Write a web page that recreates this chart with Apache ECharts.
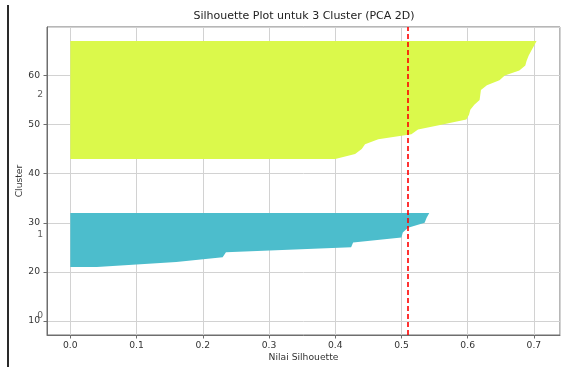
<!DOCTYPE html>
<html>
<head>
<meta charset="utf-8">
<script src="https://cdn.jsdelivr.net/npm/echarts@6/dist/echarts.min.js"></script>
<style>
  html, body { margin: 0; padding: 0; background: #fff; }
  #chart { width: 561px; height: 367px; }
</style>
</head>
<body>
<div id="chart"></div>
<script>
// ---- data ----
const chartTitle = 'Silhouette Plot untuk 3 Cluster (PCA 2D)';
const xAxisTitle = 'Nilai Silhouette';
const yAxisTitle = 'Cluster';
const clusterNames = ['0', '1', '2'];
// sorted silhouette values per cluster (one value per sample)
const cluster0Values = [0.0];
const cluster1Values = [0.04, 0.16, 0.23, 0.235, 0.424, 0.427, 0.50, 0.502, 0.51, 0.535, 0.538, 0.542];
const cluster2Values = [0.40, 0.43, 0.44, 0.445, 0.465, 0.515, 0.525, 0.562, 0.598, 0.602, 0.604, 0.61, 0.618,
                        0.619, 0.62, 0.629, 0.648, 0.656, 0.678, 0.687, 0.689, 0.692, 0.696, 0.70, 0.704];
const clusterColors = ['#7a1a8a', '#4cbdcc', '#dbf94b'];
const averageScore = 0.51;
const xRange = [-0.0352, 0.7394];
const yRange = [7.15, 69.85];

// ---- layout like the usual silhouette plot: gap of 10 between clusters ----
const allClusters = [cluster0Values, cluster1Values, cluster2Values];
const polySeries = [];
const labelData = [];
let yLower = 10;
allClusters.forEach(function (vals, ci) {
  const pts = vals.map(function (v, i) { return [v, yLower + i]; });
  labelData.push([-0.05, yLower + 0.5 * vals.length, clusterNames[ci]]);
  const color = clusterColors[ci];
  polySeries.push({
    type: 'custom',
    name: 'Cluster ' + clusterNames[ci],
    data: pts,
    encode: { x: 0, y: 1 },
    silent: true,
    renderItem: function (params, api) {
      if (params.dataIndex !== 0 || pts.length < 2) return null;
      const poly = [api.coord([0, pts[0][1]])];
      pts.forEach(function (p) { poly.push(api.coord(p)); });
      poly.push(api.coord([0, pts[pts.length - 1][1]]));
      return { type: 'polygon', shape: { points: poly }, style: { fill: color } };
    }
  });
  yLower = yLower + vals.length + 10;
});

const FONT = 'DejaVu Sans';
const axisColor = '#6e6e6e';
const textColor = '#333';

const chart = echarts.init(document.getElementById('chart'), null, { renderer: 'canvas' });
chart.setOption({
  animation: false,
  backgroundColor: '#fff',
  title: {
    text: chartTitle,
    left: 304, top: 11, padding: 0, textAlign: 'center',
    textStyle: { fontFamily: FONT, fontSize: 11, fontWeight: 'normal', color: '#222' }
  },
  grid: {
    left: 47, right: 1, top: 27, bottom: 32,
    show: true, borderColor: axisColor, borderWidth: 1, backgroundColor: 'transparent'
  },
  xAxis: {
    type: 'value', min: xRange[0], max: xRange[1], splitNumber: 8,
    name: xAxisTitle, nameLocation: 'middle', nameGap: 18, nameMoveOverlap: false,
    nameTextStyle: { fontFamily: FONT, fontSize: 9.2, color: textColor },
    axisLine: { show: true, onZero: false, lineStyle: { color: axisColor, width: 1 } },
    axisTick: { show: true, length: 3.5, lineStyle: { color: axisColor } },
    axisLabel: {
      fontFamily: FONT, fontSize: 9.2, color: textColor, margin: 6,
      showMinLabel: false, showMaxLabel: false,
      formatter: function (v) { return v.toFixed(1); }
    },
    splitLine: { show: true, lineStyle: { color: '#d2d2d2', width: 1 } }
  },
  yAxis: {
    type: 'value', min: yRange[0], max: yRange[1], splitNumber: 6,
    name: yAxisTitle, nameLocation: 'middle', nameGap: 23, nameMoveOverlap: false,
    nameTextStyle: { fontFamily: FONT, fontSize: 9.2, color: textColor },
    axisLine: { show: true, onZero: false, lineStyle: { color: axisColor, width: 1 } },
    axisTick: { show: true, length: 3.5, lineStyle: { color: axisColor } },
    axisLabel: {
      fontFamily: FONT, fontSize: 9.2, color: textColor, margin: 7,
      showMinLabel: false, showMaxLabel: false
    },
    splitLine: { show: true, lineStyle: { color: '#d2d2d2', width: 1 } }
  },
  graphic: [{
    type: 'rect', shape: { x: 7, y: 5, width: 2, height: 362 },
    style: { fill: '#2a2a2a' }, silent: true
  }],
  series: polySeries.concat([
    {
      type: 'scatter', name: 'labels', data: labelData, clip: false,
      symbolSize: 0, silent: true,
      label: {
        show: true, position: [0, 0], align: 'left', verticalAlign: 'bottom', offset: [0, 2],
        fontFamily: FONT, fontSize: 9.2, color: textColor,
        formatter: function (p) { return p.value[2]; }
      }
    },
    {
      type: 'line', name: 'avg', data: [], silent: true,
      markLine: {
        silent: true, symbol: ['none', 'none'], label: { show: false },
        lineStyle: { color: '#ff0000', type: [5, 3], width: 1.6 },
        data: [{ xAxis: averageScore }]
      }
    }
  ])
});
</script>
</body>
</html>
